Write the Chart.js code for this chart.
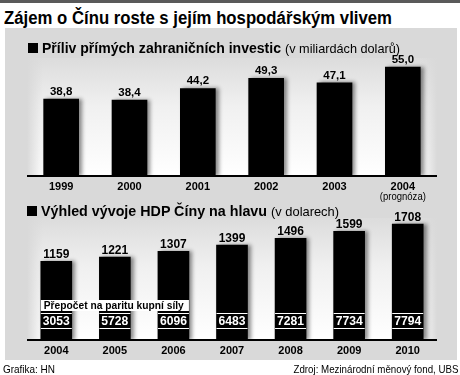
<!DOCTYPE html>
<html>
<head>
<meta charset="utf-8">
<script src="https://cdn.jsdelivr.net/npm/chart.js@4"></script>
<style>
  body { margin: 0; width: 460px; height: 375px; background: #fff; position: relative; overflow: hidden;
         font-family: 'Liberation Sans', Arial, sans-serif; color: #000; }
  .abs { position: absolute; white-space: nowrap; }
  .fit { display: inline-block; transform-origin: left top; }
  #strip { left: 0; top: 0; width: 460px; height: 3px; background: #5a5a5a; }
  #title { left: 4px; top: 9px; font-size: 18px; line-height: 18px; font-weight: bold; }
  #panel { left: 5px; top: 28px; width: 452px; height: 332px; background: #d9d9d9; }
  .sub { font-size: 14px; line-height: 14px; }
  .sub .sq { display: inline-block; width: 10px; height: 10px; background: #000; margin-right: 4px; }
  .sub b { display: inline-block; transform-origin: left bottom; }
  .sub span.n { display: inline-block; font-size: 13px; transform-origin: left bottom; }
  #sub1 { left: 28px; top: 41px; }
  #sub2 { left: 27px; top: 204px; }
  #box1 { left: 27px; top: 44px; width: 410px; height: 162px; }
  #box2 { left: 27px; top: 204px; width: 410px; height: 158px; }
  .foot { font-size: 11px; line-height: 11px; top: 364px; }
  #footL { left: 3px; }
  #footR { right: 2px; }
  #footR .fit { transform-origin: right top; }
</style>
</head>
<body>
<div id="strip" class="abs"></div>
<div id="title" class="abs"><span class="fit" data-w="388">Zájem o Čínu roste s jejím hospodářským vlivem</span></div>
<div id="panel" class="abs"></div>
<div id="box1" class="abs"><canvas id="chart1"></canvas></div>
<div id="box2" class="abs"><canvas id="chart2"></canvas></div>
<div id="sub1" class="abs sub"><span class="sq"></span><b class="fit" data-w="239">Příliv přímých zahraničních investic</b><span class="n fit" data-w="115">(v miliardách dolarů)</span></div>
<div id="sub2" class="abs sub"><span class="sq"></span><b class="fit" data-w="226">Výhled vývoje HDP Číny na hlavu</b><span class="n fit" data-w="68">(v dolarech)</span></div>
<div id="footL" class="abs foot"><span class="fit" data-w="52">Grafika: HN</span></div>
<div id="footR" class="abs foot"><span class="fit" data-w="165">Zdroj: Mezinárodní měnový fond, UBS</span></div>

<script>
// data
const years1 = ['1999', '2000', '2001', '2002', '2003', '2004'];
const investice = [38.8, 38.4, 44.2, 49.3, 47.1, 55.0];
const years2 = ['2004', '2005', '2006', '2007', '2008', '2009', '2010'];
const hdp = [1159, 1221, 1307, 1399, 1496, 1599, 1708];
const parita = [3053, 5728, 6096, 6483, 7281, 7734, 7794];
const paritaLabel = 'Přepočet na paritu kupní síly';
const prognoza = '(prognóza)';

const FONT = "'Liberation Sans', Arial, sans-serif";

// squeeze html texts to the widths of the original (narrow font)
document.querySelectorAll('.fit').forEach(el => {
    const w = el.getBoundingClientRect().width;
    const target = parseFloat(el.dataset.w);
    el.style.transform = `scaleX(${target / w})`;
    if (el.parentElement.classList.contains('sub')) {
        el.style.marginRight = (target - w + 4) + 'px';
    }
});

function narrowText(ctx, text, x, y, width, align) {
    const w = ctx.measureText(text).width;
    const s = width ? width / w : 1;
    ctx.save();
    ctx.translate(x, y);
    ctx.scale(s, 1);
    ctx.textAlign = align || 'center';
    ctx.fillText(text, 0, 0);
    ctx.restore();
}

// grey-to-white plot background
const plotBg = {
    id: 'plotBg',
    beforeDraw(chart) {
        const { ctx, chartArea: a } = chart;
        ctx.save();
        const g = ctx.createLinearGradient(0, a.top, 0, a.bottom);
        g.addColorStop(0, '#dcdcdc');
        g.addColorStop(0.4, '#f0f0f0');
        g.addColorStop(1, '#ffffff');
        ctx.fillStyle = g;
        ctx.fillRect(a.left, a.top, a.right - a.left, a.bottom - a.top);
        const h = ctx.createLinearGradient(a.left, 0, a.right, 0);
        h.addColorStop(0, 'rgba(217,217,217,1)');
        h.addColorStop(0.04, 'rgba(217,217,217,0)');
        h.addColorStop(0.96, 'rgba(217,217,217,0)');
        h.addColorStop(1, 'rgba(217,217,217,1)');
        ctx.fillStyle = h;
        ctx.fillRect(a.left, a.top, a.right - a.left, a.bottom - a.top);
        ctx.restore();
    }
};

// soft shadow right of the bars + value labels above
function barLabels(fmt, size, gap) {
    return {
        id: 'barLabels',
        beforeDatasetsDraw(chart) {
            const ctx = chart.ctx;
            ctx.save();
            ctx.shadowColor = 'rgba(0,0,0,0.45)';
            ctx.shadowBlur = 4;
            ctx.shadowOffsetX = 3;
        },
        afterDatasetsDraw(chart) {
            const ctx = chart.ctx;
            ctx.restore();
            const meta = chart.getDatasetMeta(0);
            const data = chart.data.datasets[0].data;
            ctx.save();
            ctx.fillStyle = '#000';
            ctx.font = `bold ${size}px ${FONT}`;
            ctx.textBaseline = 'alphabetic';
            meta.data.forEach((bar, i) => {
                narrowText(ctx, fmt(data[i]), bar.x, bar.y - gap, null);
            });
            ctx.restore();
        }
    };
}

function xAxis(h) {
    return {
        grid: { display: false, drawTicks: false },
        border: { display: true, color: '#000', width: 2 },
        ticks: { color: '#000', font: { family: FONT, size: 11, weight: 'bold' }, padding: 4, maxRotation: 0 },
        afterFit(s) { s.height = h; }
    };
}

const common = {
    responsive: true,
    maintainAspectRatio: false,
    animation: false,
    layout: { padding: { top: 14 } },
    plugins: { legend: { display: false }, tooltip: { enabled: false } }
};

const prognozaPlugin = {
    id: 'prognoza',
    afterDraw(chart) {
        const ctx = chart.ctx;
        const x = chart.scales.x.getPixelForValue(years1.length - 1);
        ctx.save();
        ctx.fillStyle = '#000';
        ctx.font = `10px ${FONT}`;
        narrowText(ctx, prognoza, x, chart.chartArea.bottom + 24, 46);
        ctx.restore();
    }
};

new Chart(document.getElementById('chart1'), {
    type: 'bar',
    data: {
        labels: years1,
        datasets: [{ data: investice, backgroundColor: '#000', barThickness: 35 }]
    },
    options: {
        ...common,
        scales: {
            x: xAxis(30),
            y: { display: false, min: 0, max: 59.6 }
        }
    },
    plugins: [plotBg, barLabels(v => v.toFixed(1).replace('.', ','), 11.5, 4), prognozaPlugin]
});

// white PPP numbers inside the bars
const paritaPlugin = {
    id: 'parita',
    afterDraw(chart) {
        const ctx = chart.ctx;
        const b = chart.chartArea.bottom;
        const bars = chart.getDatasetMeta(0).data;
        ctx.save();
        // label band across the first three bars
        const x0 = bars[0].x - bars[0].width / 2;
        const x1 = bars[2].x + bars[2].width / 2;
        ctx.fillStyle = '#fff';
        ctx.fillRect(x0, b - 40, x1 - x0, 11);
        ctx.fillStyle = '#000';
        ctx.font = `bold 11px ${FONT}`;
        narrowText(ctx, paritaLabel, x0 + 3, b - 31, 140, 'left');
        bars.forEach((bar, i) => {
            const l = bar.x - bar.width / 2;
            ctx.fillStyle = '#fff';
            ctx.fillRect(l, b - 27, bar.width, 1);
            ctx.fillRect(l, b - 12, bar.width, 1);
            ctx.font = `bold 12px ${FONT}`;
            narrowText(ctx, String(parita[i]), bar.x, b - 15, 27);
        });
        ctx.restore();
    }
};

new Chart(document.getElementById('chart2'), {
    type: 'bar',
    data: {
        labels: years2,
        datasets: [{ data: hdp, backgroundColor: '#000', barThickness: 31 }]
    },
    options: {
        ...common,
        scales: {
            x: xAxis(22),
            y: { display: false, min: 0, max: 1797 }
        }
    },
    plugins: [plotBg, barLabels(v => String(v), 12, 3), paritaPlugin]
});
</script>
</body>
</html>
